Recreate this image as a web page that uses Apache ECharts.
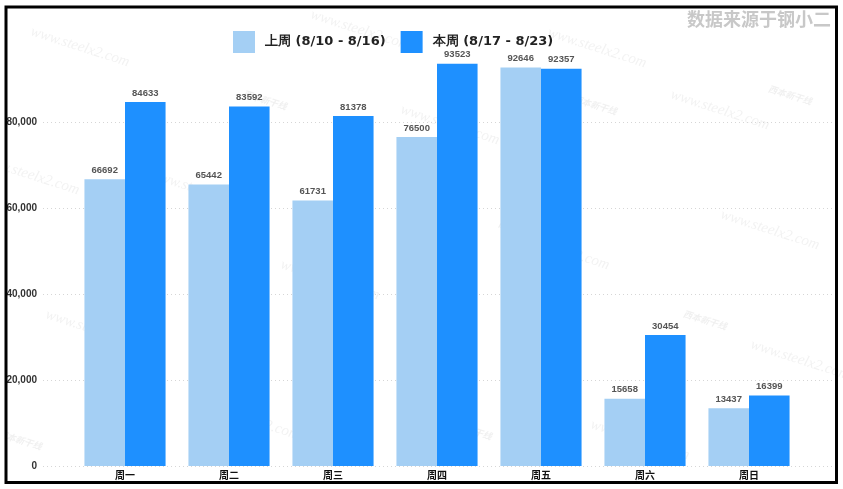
<!DOCTYPE html>
<html>
<head>
<meta charset="utf-8">
<script src="https://cdn.jsdelivr.net/npm/echarts@6/dist/echarts.min.js"></script>
<style>
html,body{margin:0;padding:0;background:#fff;}
#chart{width:843px;height:489px;}
</style>
</head>
<body>
<div id="chart"></div>
<script>
const categories = ['周一','周二','周三','周四','周五','周六','周日'];
const lastWeek = [66692, 65442, 61731, 76500, 92646, 15658, 13437];
const thisWeek = [84633, 83592, 81378, 93523, 92357, 30454, 16399];
const seriesNames = ['上周 (8/10 - 8/16)', '本周 (8/17 - 8/23)'];
const yTicks = {min: 0, max: 100000, interval: 20000};
const sourceText = '数据来源于钢小二';

const wmColor = 'rgba(140,140,140,0.11)';
const wmPos = [[80,47],[360,30],[597,48],[30,175],[200,190],[450,125],[720,110],[95,330],[330,280],[560,250],[800,360],[250,420],[640,440],[770,230]];
const wmGraphics = wmPos.map(p => ({
  type: 'text', x: p[0], y: p[1], rotation: -0.31, z: 0, silent: true,
  style: {text: 'www.steelx2.com', fill: wmColor, font: 'italic 15px "Liberation Serif"', align: 'center', verticalAlign: 'middle'}
}));
const logoPos = [[265,100],[595,105],[790,95],[520,230],[130,300],[705,320],[470,430],[20,440]];
const logoGraphics = logoPos.map(p => ({
  type: 'text', x: p[0], y: p[1], rotation: -0.3, z: 0, silent: true,
  style: {text: '西本新干线', fill: 'rgba(140,140,140,0.13)', font: 'italic bold 9px "Noto Sans CJK SC"', align: 'center', verticalAlign: 'middle'}
}));

const chart = echarts.init(document.getElementById('chart'));
chart.setOption({
  backgroundColor: '#fff',
  animation: false,
  legend: {
    left: 228, top: 26,
    itemWidth: 22, itemHeight: 22, itemGap: 15,
    icon: 'rect',
    data: seriesNames,
    textStyle: {fontSize: 13, fontWeight: 'bold', color: '#222', fontFamily: 'DejaVu Sans', padding: [0,0,0,5]}
  },
  grid: [
    {left: 73, right: 42, top: 36, bottom: 23},
    {left: 43, right: 10, top: 36, bottom: 23}
  ],
  xAxis: [
    {type: 'category', gridIndex: 0, data: categories,
     axisLine: {show: false}, axisTick: {show: false},
     axisLabel: {color: '#111', fontWeight: 'bold', fontSize: 10, margin: 4, fontFamily: 'Noto Sans CJK SC'}},
    {type: 'value', gridIndex: 1, show: false, min: 0, max: 1}
  ],
  yAxis: [
    {type: 'value', gridIndex: 0, min: yTicks.min, max: yTicks.max, interval: yTicks.interval,
     axisLabel: {show: false}, splitLine: {show: false}, axisLine: {show: false}, axisTick: {show: false}},
    {type: 'value', gridIndex: 1, min: yTicks.min, max: yTicks.max, interval: yTicks.interval,
     axisLine: {show: false}, axisTick: {show: false},
     axisLabel: {showMaxLabel: false, margin: 6, color: '#333', fontWeight: 'bold', fontSize: 10, fontFamily: 'Liberation Sans',
       formatter: v => v.toLocaleString('en-US')},
     splitLine: {show: true, showMaxLine: false, lineStyle: {type: [1, 3], color: '#d6d6d6', width: 1}}}
  ],
  series: [
    {name: seriesNames[0], type: 'bar', xAxisIndex: 0, yAxisIndex: 0, data: lastWeek,
     barGap: '0%', barCategoryGap: '22%', z: 3,
     itemStyle: {color: '#A4CFF4'},
     label: {show: true, position: 'top', distance: 4, color: '#555', fontWeight: 'bold', fontSize: 9.5, fontFamily: 'Liberation Sans'}},
    {name: seriesNames[1], type: 'bar', xAxisIndex: 0, yAxisIndex: 0, data: thisWeek,
     barGap: '0%', barCategoryGap: '22%', z: 3,
     itemStyle: {color: '#1E90FF'},
     label: {show: true, position: 'top', distance: 4, color: '#555', fontWeight: 'bold', fontSize: 9.5, fontFamily: 'Liberation Sans'}}
  ],
  graphic: [].concat(wmGraphics, logoGraphics, [
    {type: 'text', right: 12, top: 10, z: 10, silent: true,
     style: {text: sourceText, fill: '#c8c8c8', font: 'bold 18px "Noto Sans CJK SC"'}},
    {type: 'rect', x: 0, y: 0, z: 99, silent: true, shape: {width: 5, height: 489}, style: {fill: '#fff'}},
    {type: 'rect', x: 6, y: 7, z: 100, silent: true,
     shape: {width: 830.5, height: 475.5},
     style: {fill: 'none', stroke: '#000', lineWidth: 3}}
  ])
});
</script>
</body>
</html>
